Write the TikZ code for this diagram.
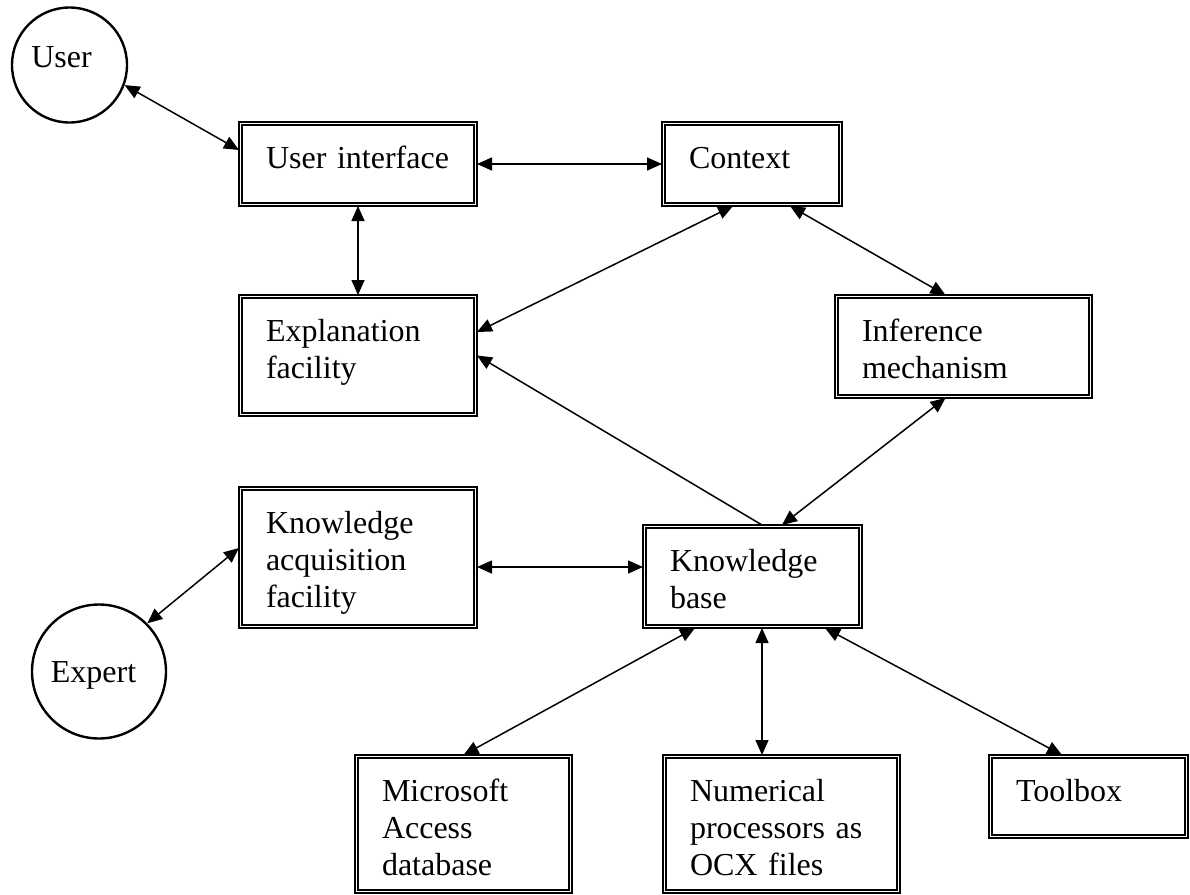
\documentclass[tikz,border=0pt]{standalone}
\usepackage{fontspec}
\setmainfont{Liberation Serif}
\usetikzlibrary{arrows.meta}

\begin{document}
\begin{tikzpicture}[x=0.5pt,y=-0.5pt,
		txt/.style={font=\fontsize{16}{18.5}\selectfont},
		frame/.style={txt,draw,line width=0.75pt,rectangle,anchor=north west,align=left,
			inner xsep=13.5pt,inner ysep=0pt,outer sep=0pt,text height=23pt},
		person/.style={draw,circle,line width=1.2pt,inner sep=0pt},
		link/.style={line width=0.75pt,{Triangle[length=7.5pt,width=6.5pt]}-{Triangle[length=7.5pt,width=6.5pt]}},
		onelink/.style={line width=0.75pt,-{Triangle[length=7.5pt,width=6.5pt]}}]
	\useasboundingbox (0,0) rectangle (1190,895);

	% people
	\node[person,minimum size=57.5pt,label={[txt,xshift=-4pt,yshift=3.8pt]center:User}] (user) at (69.5,65) {};
	\node[person,minimum size=67pt,label={[txt,xshift=-2.75pt,yshift=-1.9pt]center:Expert}] (expert) at (99,671.5) {};

	% boxes
	\node[frame,text width=92pt,text depth=19pt] (ui) at (239,122) {User interface};
	\node[frame,text width=63pt,text depth=19pt] (ctx) at (662,122) {Context};
	\node[frame,text width=92pt,text depth=37.5pt] (expl) at (239,295) {Explanation\\facility};
	\node[frame,text width=101.5pt,text depth=28.5pt] (inf) at (835,295) {Inference\\mechanism};
	\node[frame,text width=92pt,text depth=47.5pt] (kaq) at (239,487) {Knowledge\\acquisition\\facility};
	\node[frame,text width=82.5pt,text depth=28.5pt] (kb) at (643,525) {Knowledge\\base};
	\node[frame,text width=81.5pt,text depth=46pt] (msa) at (355,755) {Microsoft\\Access\\database};
	\node[frame,text width=91.5pt,text depth=46pt] (num) at (663,755) {Numerical\\processors as\\OCX files};
	\node[frame,text width=72.5pt,text depth=18.5pt] (tool) at (989,755) {Toolbox};

	% inner line of the double frames
	\foreach \n in {ui,ctx,expl,inf,kaq,kb,msa,num,tool}
		\draw[line width=1pt] ([shift={(1.7pt,-1.7pt)}]\n.north west) rectangle ([shift={(-1.7pt,1.7pt)}]\n.south east);

	% arrows
	\draw[link] (user.-20) -- ([yshift=7pt]ui.west);
	\draw[link] (ui.east) -- (ctx.west);
	\draw[link] (ui.south) -- (expl.north);
	\draw[link] ([yshift=11.75pt]expl.east) -- ([xshift=-9.5pt]ctx.south);
	\draw[link] ([xshift=19pt]ctx.south) -- ([xshift=-9pt]inf.north);
	\draw[onelink] ([xshift=4.75pt]kb.north) -- (expl.east);
	\draw[link] ([xshift=-9pt]inf.south) -- ([xshift=14.75pt]kb.north);
	\draw[link] ([yshift=-4.75pt]kaq.east) -- ([yshift=4.75pt]kb.west);
	\draw[link] (expert.45) -- ([yshift=4.75pt]kaq.west);
	\draw[link] ([xshift=-28.75pt]kb.south) -- (msa.north);
	\draw[link] ([xshift=4.75pt]kb.south) -- ([xshift=4.75pt]kb.south |- num.north);
	\draw[link] ([xshift=36.25pt]kb.south) -- ([xshift=-13.25pt]tool.north);
\end{tikzpicture}
\end{document}
